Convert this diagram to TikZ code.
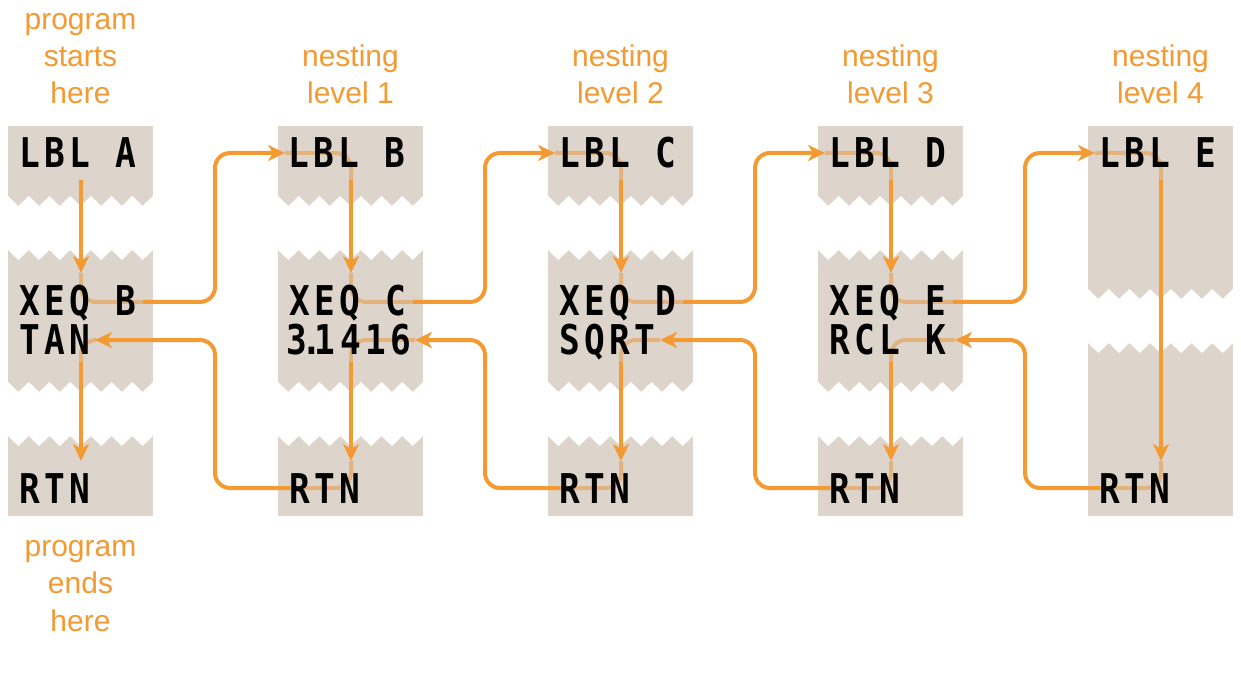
\documentclass[tikz,border=0pt]{standalone}
\usepackage{fontspec}
\usetikzlibrary{arrows.meta}
\newfontfamily\calcfont[FakeStretch=0.84,LetterSpace=11]{DejaVu Sans Mono}
\newfontfamily\labelfont{Liberation Sans}
\definecolor{flow}{HTML}{F39A32}
\definecolor{flowdim}{HTML}{E2B27F}
\definecolor{paper}{HTML}{DDD5CC}
\newcommand\tearband[3]{%
  \fill[white] (#1,#2) \foreach \k in {1,...,7} {-- ++(10.357,10) -- ++(10.357,-10)}
    -- ({#1+145},#3) \foreach \k in {1,...,7} {-- ++(-10.357,10) -- ++(-10.357,-10)} -- cycle;}
\tikzset{
  instr/.style={anchor=base west, inner sep=0pt, font=\calcfont\bfseries\fontsize{41}{41}\selectfont},
  note/.style={align=center, inner sep=0pt, anchor=base, text=flow,
    font=\labelfont\fontsize{30}{37.3}\selectfont},
  dimline/.style={draw=flowdim, line width=4pt, rounded corners=15pt},
  flowline/.style={draw=flow, line width=4pt, rounded corners=15pt},
  flowarrow/.style={flowline, -{Stealth[length=17pt,width=16pt,inset=5pt]}},
}
\begin{document}
\begin{tikzpicture}[x=1pt,y=-1pt]
\useasboundingbox (0,0) rectangle (1241,684);
\fill[white] (0,0) rectangle (1241,684);
% paper strips
\foreach \i in {0,...,4} {
  \pgfmathsetmacro\L{8+270*\i}
  \fill[paper] (\L,126) rectangle ({\L+145},516);
}
\foreach \i in {0,...,3} {
  \pgfmathsetmacro\L{8+270*\i}
  \tearband{\L}{196}{250}
  \tearband{\L}{382}{436}
}
\tearband{1088}{289}{343}
% coordinates
\foreach \i/\rt in {0/87,1/137,2/112,3/137,4/137} {
  \pgfmathsetmacro\L{8+270*\i}
  \pgfmathsetmacro\C{\L+73}
  \coordinate (in\i) at ({\L+7},153);
  \coordinate (a\i) at (\C,180);
  \coordinate (b\i) at (\C,273);
  \coordinate (xo\i) at ({\L+135},302);
  \coordinate (rt\i) at ({\L+\rt},340);
  \coordinate (d\i) at (\C,362);
  \coordinate (e\i) at (\C,461);
  \coordinate (ro\i) at ({\L+12},488);
  \coordinate (v\i) at ({\L+207},0);
}
% dimmed flow behind the instructions
\foreach \i in {1,...,4} {
  \draw[dimline] (in\i) -| (a\i);
  \draw[dimline] (e\i) |- (ro\i);
}
\foreach \i in {0,...,3} {
  \draw[dimline] (b\i) |- (xo\i);
  \draw[dimline] (rt\i) -| (d\i);
}
% instructions
\node[instr] (l0) at (19,168) {LBL A};
\node[instr] (x0) at (19,316) {XEQ B};
\node[instr] (t0) at (19,354) {TAN};
\node[instr] (r0) at (19,503) {RTN};
\node[instr] (l1) at (288,168) {LBL B};
\node[instr] (x1) at (289,316) {XEQ C};
\node[instr] (t1) at (286,354) {3\rlap{\kern-0.13em.}\kern8pt1416};
\node[instr] (r1) at (289,503) {RTN};
\node[instr] (l2) at (559,168) {LBL C};
\node[instr] (x2) at (559,316) {XEQ D};
\node[instr] (t2) at (559,354) {SQRT};
\node[instr] (r2) at (559,503) {RTN};
\node[instr] (l3) at (829,168) {LBL D};
\node[instr] (x3) at (829,316) {XEQ E};
\node[instr] (t3) at (829,354) {RCL K};
\node[instr] (r3) at (829,503) {RTN};
\node[instr] (l4) at (1099,168) {LBL E};
\node[instr] (r4) at (1099,503) {RTN};
% labels (anchor base = last line)
\node[note] (start) at (80.5,104) {program\\starts\\here};
\node[note] (n1) at (350.5,104) {nesting\\level 1};
\node[note] (n2) at (620.5,104) {nesting\\level 2};
\node[note] (n3) at (890.5,104) {nesting\\level 3};
\node[note] (n4) at (1160.5,104) {nesting\\level 4};
\node[note] (end) at (80.5,631) {program\\ends\\here};
% solid flow
\foreach \i in {0,...,3} {
  \draw[flowarrow] (a\i) -- (b\i);
  \draw[flowarrow] (d\i) -- (e\i);
}
\foreach \i/\j in {0/1,1/2,2/3,3/4} {
  \draw[flowarrow] (xo\i) -- (xo\i -| v\i) -- (in\j -| v\i) -- (in\j);
  \draw[flowarrow] (ro\j) -- (ro\j -| v\i) -- (rt\i -| v\i) -- (rt\i);
}
\draw[flowarrow] (a4) -- (e4);
\end{tikzpicture}
\end{document}
